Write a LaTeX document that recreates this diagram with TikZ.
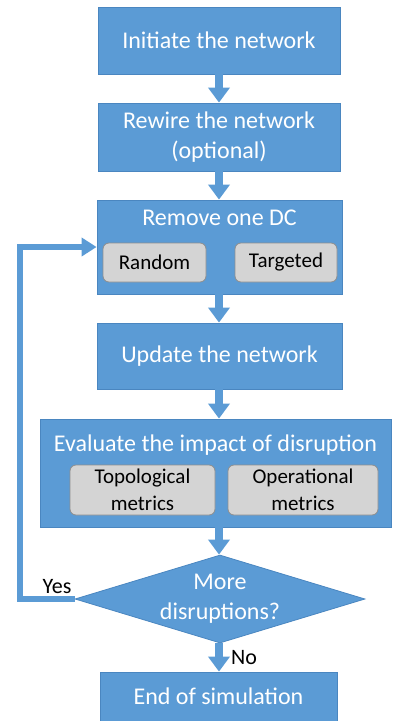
\documentclass[tikz,border=0pt]{standalone}
\usepackage{fontspec}
\setmainfont{Carlito}
\usetikzlibrary{arrows.meta,shapes.geometric}
\definecolor{stepblue}{HTML}{5B9BD5}
\definecolor{stepedge}{HTML}{4A86C0}
\definecolor{optgray}{HTML}{D4D4D4}
\definecolor{optedge}{HTML}{8E8E8E}
\tikzset{
	stage/.style={draw=stepedge, line width=0.8pt, fill=stepblue, text=white, inner sep=0pt, align=center, font=\fontsize{24}{30}\selectfont},
	stagetitle/.style={text=white, inner sep=0pt, font=\fontsize{24}{30}\selectfont},
	choice/.style={draw=optedge, line width=0.8pt, fill=optgray, rounded corners=6pt, inner sep=0pt, align=center, font=\fontsize{21}{27}\selectfont},
	flow/.style={stepblue, line width=8pt, -{Triangle[width=21pt,length=15pt]}},
	loopback/.style={stepblue, line width=6pt, -{Triangle[width=18pt,length=15pt]}},
	answer/.style={inner sep=0pt, font=\fontsize{22}{26}\selectfont}
}

\begin{document}
\begin{tikzpicture}[x=1pt, y=1pt]
			%%%%% START %%%%%
			
			\useasboundingbox (0, 0) rectangle (392, -721);
			
			\node[stage, minimum width=242, minimum height=67] (init) at (219, -40.5) {Initiate the network};
			\node[stage, minimum width=242, minimum height=68] (rewire) at (219, -137) {Rewire the network\\(optional)};
			
			\node[stage, minimum width=245, minimum height=94] (remove) at (219.5, -247) {};
			\node[stagetitle] (removetitle) at (219.5, -218) {Remove one DC};
			\node[choice, minimum width=103, minimum height=39] (random) at (154.5, -262.5) {Random};
			\node[choice, minimum width=102, minimum height=39] (targeted) at (286, -262.5) {Targeted};
			
			\node[stage, minimum width=245, minimum height=66] (update) at (219.5, -356) {Update the network};
			
			\node[stage, minimum width=351, minimum height=108] (evaluate) at (215.5, -473) {};
			\node[stagetitle] (evaluatetitle) at (215.5, -445) {Evaluate the impact of disruption};
			\node[choice, minimum width=145, minimum height=50] (topo) at (142.5, -490) {Topological\\metrics};
			\node[choice, minimum width=150, minimum height=50] (oper) at (303, -490) {Operational\\metrics};
			
			\node[stage, diamond, aspect=3.27, minimum width=290, minimum height=88] (more) at (220, -599) {More\\disruptions?};
			
			\node[stage, minimum width=237, minimum height=49] (endsim) at (218.5, -696.5) {End of simulation};
			
			\draw[flow] (init) -- (rewire);
			\draw[flow] (rewire) -- (rewire |- remove.north);
			\draw[flow] (remove.south -| init) -- (update.north -| init);
			\draw[flow] (update.south -| init) -- (evaluate.north -| init);
			\draw[flow] (evaluate.south -| init) -- (more.north -| init);
			\draw[flow] (more.south -| init) -- (endsim.north -| init);
			
			\coordinate (loopcorner) at (20, -247);
			\draw[loopback] (more.west) -| (loopcorner) -- (loopcorner -| remove.west);
			
			\node[answer, anchor=south east] (yes) at ([xshift=-3, yshift=5]more.west) {Yes};
			\node[answer, anchor=west] (no) at (231, -658) {No};
			
			%%%%% END %%%%%
		\end{tikzpicture}
\end{document}
